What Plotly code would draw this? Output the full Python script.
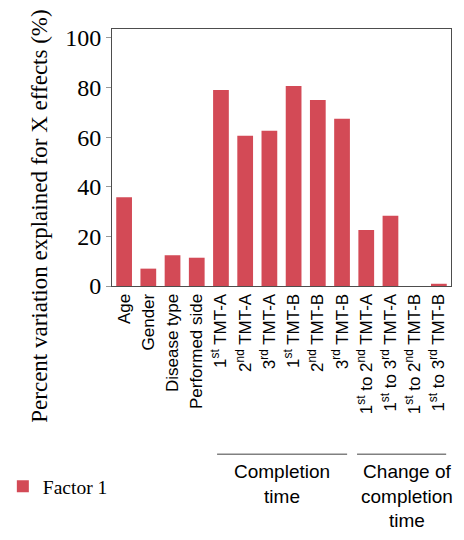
import plotly.graph_objects as go

categories = [
    "Age", "Gender", "Disease type", "Performed side",
    "1<sup>st</sup> TMT-A", "2<sup>nd</sup> TMT-A", "3<sup>rd</sup> TMT-A",
    "1<sup>st</sup> TMT-B", "2<sup>nd</sup> TMT-B", "3<sup>rd</sup> TMT-B",
    "1<sup>st</sup> to 2<sup>nd</sup> TMT-A", "1<sup>st</sup> to 3<sup>rd</sup> TMT-A",
    "1<sup>st</sup> to 2<sup>nd</sup> TMT-B", "1<sup>st</sup> to 3<sup>rd</sup> TMT-B",
]
factor1 = [35.8, 7.0, 12.4, 11.4, 79.0, 60.6, 62.6, 80.6, 75.0, 67.4, 22.6, 28.3, 0.0, 0.9]
y_ticks = [0, 20, 40, 60, 80, 100]
series_name = "Factor 1"
y_title = "Percent variation explained for X effects (%)"
# (label, line start, line end, label centre) in category units
groups = [("Completion<br>time", 3.84, 9.21, 6.5),
          ("Change of<br>completion<br>time", 9.62, 13.3, 11.68)]

RED = "#d34a56"
fig = go.Figure()
fig.add_trace(go.Bar(x=list(range(len(categories))), y=factor1, name=series_name,
                     marker=dict(color=RED, line=dict(width=0)), width=0.65))

fig.update_layout(
    width=456, height=532,
    margin=dict(l=104, r=13, t=21, b=254, autoexpand=False),
    plot_bgcolor="white", paper_bgcolor="white",
    showlegend=True,
    legend=dict(x=-0.322, y=-0.78, xanchor="left", yanchor="middle",
                font=dict(family="Liberation Serif", size=19.5, color="black"),
                bgcolor="rgba(0,0,0,0)"),
    bargap=0.35,
)
fig.update_xaxes(
    range=[-0.5, 13.5], tickmode="array", tickvals=list(range(len(categories))),
    ticktext=categories, tickangle=-90, ticks="", automargin=False,
    tickfont=dict(family="Liberation Sans", size=17, color="black"),
    showline=True, linecolor="#4d4d4d", linewidth=1, mirror=True, showgrid=False,
)
fig.update_yaxes(
    range=[0, 103.6], tickmode="array", tickvals=y_ticks, automargin=False,
    ticks="outside", ticklen=5, tickcolor="#999999",
    tickfont=dict(family="Liberation Serif", size=24, color="black"),
    showline=True, linecolor="#4d4d4d", linewidth=1, mirror=True, showgrid=False,
    zeroline=False,
)
fig.add_annotation(text=y_title, xref="paper", yref="paper", x=-0.215, y=0.27,
                   textangle=-90, showarrow=False, xanchor="center", yanchor="middle",
                   font=dict(family="Liberation Serif", size=23, color="black"))
for label, x0, x1, xc in groups:
    fig.add_shape(type="line", xref="x", yref="paper", x0=x0, x1=x1, y0=-0.655, y1=-0.655,
                  line=dict(color="#808080", width=1.5))
    fig.add_annotation(text=label, xref="x", yref="paper", x=xc, y=-0.672,
                       showarrow=False, xanchor="center", yanchor="top",
                       font=dict(family="Liberation Sans", size=19, color="black"))

fig.write_html("out.html")
